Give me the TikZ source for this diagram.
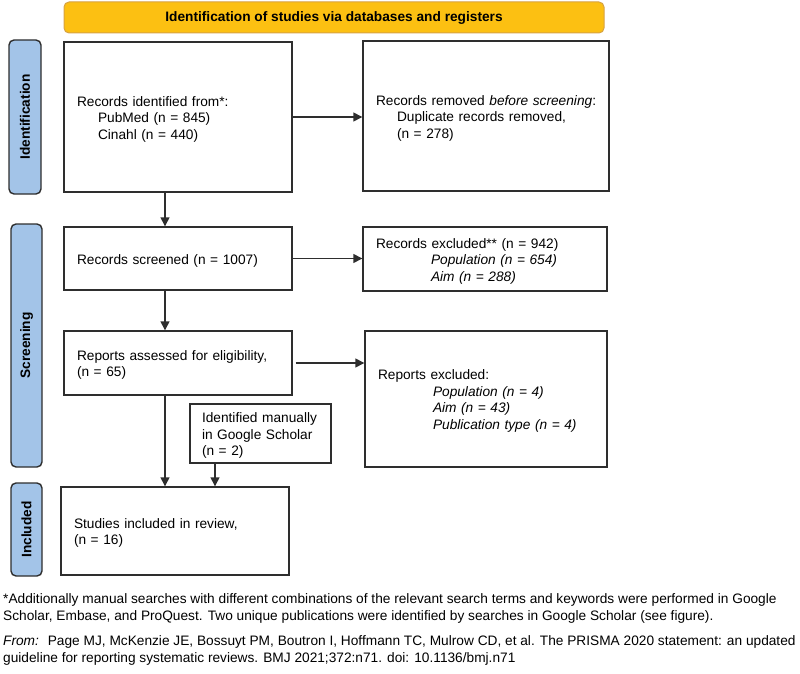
\documentclass[tikz,border=0pt]{standalone}
\usepackage{fontspec}
\setmainfont{Liberation Sans}
\usetikzlibrary{arrows.meta}
\definecolor{bannerfill}{HTML}{FCC012}
\definecolor{bannerline}{HTML}{D6A243}
\definecolor{sidefill}{HTML}{A3C4E8}
\definecolor{boxline}{HTML}{2E2E2E}
\newcommand{\blines}[1]{\raisebox{0pt}[\dimexpr\height+4.5pt\relax][\depth]{\begin{tabular}{@{}l@{}}#1\end{tabular}}}
\newcommand{\ind}{\hspace*{21pt}}
\newcommand{\indb}{\hspace*{55pt}}
\begin{document}
\begin{tikzpicture}[x=1pt,y=-1pt,
  every node/.style={font=\fontsize{13.7}{16.5}\selectfont},
  box/.style={draw=boxline, line width=1.4pt, inner xsep=13pt, inner ysep=0pt, align=left},
  side/.style={draw=boxline, fill=sidefill, line width=1.4pt, rounded corners=5pt,
    rotate=90, inner sep=0pt, font=\fontsize{13.7}{16.5}\selectfont\bfseries},
  banner/.style={draw=bannerline, fill=bannerfill, line width=1pt, rounded corners=5pt,
    inner sep=0pt, font=\fontsize{13.7}{16.5}\selectfont\bfseries},
  foot/.style={anchor=west, align=left, inner sep=0pt, font=\fontsize{13.7}{16.8}\selectfont},
  arr/.style={draw=boxline, line width=1.4pt, -{Triangle[length=9pt,width=9pt]}},
]
\useasboundingbox (0,0) rectangle (800,674);

% banner
\node[banner, minimum width=540pt, minimum height=31pt] (ban) at (334,17.5)
  {Identification of studies via databases and registers};

% side bars
\node[side, minimum width=154pt, minimum height=32pt] (s1) at (25,117) {Identification};
\node[side, minimum width=243pt, minimum height=31pt] (s2) at (26.5,345.5) {Screening};
\node[side, minimum width=93pt, minimum height=31pt] (s3) at (26.5,529.5) {Included};

% boxes
\node[box, text width=202pt, minimum height=150pt] (b1) at (178,117)
  {\blines{Records identified from*:\\ \ind PubMed (n = 845)\\ \ind Cinahl (n = 440)}};
\node[box, text width=220pt, minimum height=150pt] (b2) at (486,116)
  {\blines{Records removed \textit{before screening}:\\ \ind Duplicate records removed,\\ \ind (n = 278)}};
\node[box, text width=202pt, minimum height=63pt] (b3) at (178,258.5)
  {\blines{Records screened (n = 1007)}};
\node[box, text width=218pt, minimum height=64pt] (b4) at (485,259)
  {\blines{Records excluded** (n = 942)\\ \indb\textit{Population (n = 654)}\\ \indb\textit{Aim (n = 288)}}};
\node[box, text width=202pt, minimum height=64pt] (b5) at (178,363)
  {\blines{Reports assessed for eligibility,\\ (n = 65)}};
\node[box, text width=216pt, minimum height=136pt] (b6) at (486,399)
  {\blines{Reports excluded:\\ \indb\textit{Population (n = 4)}\\ \indb\textit{Aim (n = 43)}\\ \indb\textit{Publication type (n = 4)}}};
\node[box, inner xsep=12pt, text width=117pt, minimum height=59pt] (b7) at (260.5,433.5)
  {\blines{Identified manually\\ in Google Scholar\\ (n = 2)}};
\node[box, text width=202pt, minimum height=88pt] (b8) at (175,531)
  {\blines{Studies included in review,\\ (n = 16)}};

% connectors
\coordinate (colA) at (165,0);
\coordinate (colB) at (215,0);
\draw[arr] (b1.south -| colA) -- (b3.north -| colA);
\draw[arr] (b3.south -| colA) -- (b5.north -| colA);
\draw[arr] (b5.south -| colA) -- (b8.north -| colA);
\draw[arr] (b7.south -| colB) -- (b8.north -| colB);
\draw[arr] (b1.east) -- (b2.west |- b1.east);
\draw[arr] (b3.east) -- (b4.west |- b3.east);
\draw[arr] ([xshift=3pt]b5.east) -- (b6.west |- b5.east);

% footnotes
\node[foot] (fn1) at (3,608.5)
  {*Additionally manual searches with different combinations of the relevant search terms and keywords were performed in Google\\
   Scholar, Embase, and ProQuest. Two unique publications were identified by searches in Google Scholar (see figure).};
\node[foot] (fn2) at (3,650.5)
  {\textit{From:}~ Page MJ, McKenzie JE, Bossuyt PM, Boutron I, Hoffmann TC, Mulrow CD, et al. The PRISMA 2020 statement: an updated\\
   guideline for reporting systematic reviews. BMJ 2021;372:n71. doi: 10.1136/bmj.n71};
\end{tikzpicture}
\end{document}
